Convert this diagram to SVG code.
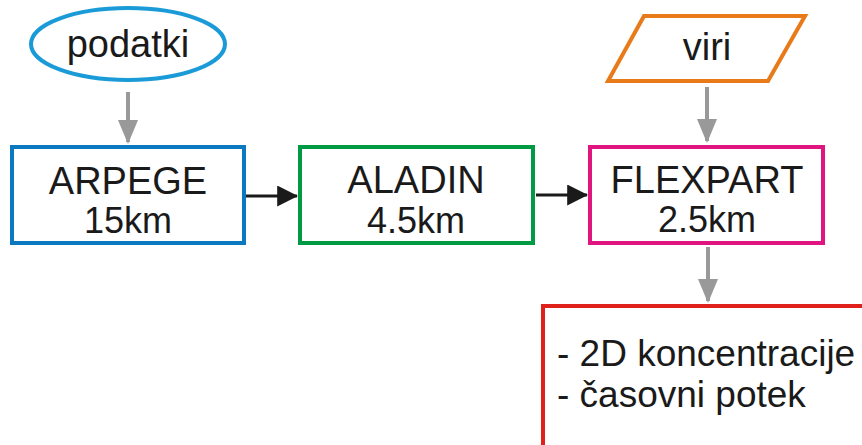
<svg xmlns="http://www.w3.org/2000/svg" width="862" height="445" viewBox="0 0 862 445">
<defs>
<marker id="ab" markerWidth="7" markerHeight="7" refX="6.6" refY="3.5" orient="auto" markerUnits="strokeWidth"><path d="M0,0 L7,3.5 L0,7 z" fill="#1a1a1a"/></marker>
<marker id="ag" markerWidth="6" markerHeight="5" refX="5.5" refY="2.5" orient="auto" markerUnits="strokeWidth"><path d="M0,0 L6,2.5 L0,5 z" fill="#999"/></marker>
</defs>
<style>
text{font-family:"Liberation Sans",Arial,sans-serif;fill:#1a1a1a}
.t1{font-size:38px;text-anchor:middle}
.t2{font-size:36px;text-anchor:middle}
.t3{font-size:37px}
.box{fill:#fff;stroke-width:4}
.bl{stroke:#1a1a1a;stroke-width:3;fill:none;marker-end:url(#ab)}
.gr{stroke:#999;stroke-width:4;fill:none;marker-end:url(#ag)}
</style>
<rect width="862" height="445" fill="#fff"/>
<g id="connectors">
<line class="gr" x1="128" y1="92" x2="128" y2="142"/>
<line class="bl" x1="245" y1="196" x2="297" y2="196"/>
<line class="bl" x1="536" y1="195" x2="587" y2="195"/>
<line class="gr" x1="707" y1="87" x2="707" y2="141"/>
<line class="gr" x1="708" y1="247" x2="708" y2="301"/>
</g>
<g id="podatki">
<ellipse cx="128" cy="44" rx="97" ry="36" fill="#fff" stroke="#1a9ad6" stroke-width="4"/>
<text class="t1" x="128" y="57">podatki</text>
</g>
<g id="arpege">
<rect class="box" x="12" y="147" width="232" height="96" stroke="#0a7ac0"/>
<text class="t1" x="128" y="194">ARPEGE</text>
<text class="t2" x="128" y="233">15km</text>
</g>
<g id="aladin">
<rect class="box" x="300" y="147" width="233" height="96" stroke="#009a44"/>
<text class="t1" x="416" y="193">ALADIN</text>
<text class="t2" x="416" y="233">4.5km</text>
</g>
<g id="viri">
<polygon points="644,16 805,16 768,81 608,81" fill="#fff" stroke="#e87a1a" stroke-width="4" stroke-linejoin="miter"/>
<text class="t1" x="707" y="60">viri</text>
</g>
<g id="flexpart">
<rect class="box" x="590" y="147" width="233" height="96" stroke="#e0157f"/>
<text class="t1" x="707" y="193">FLEXPART</text>
<text class="t2" x="707" y="232">2.5km</text>
</g>
<g id="output">
<rect class="box" x="543" y="306" width="340" height="160" stroke="#e0201a"/>
<text class="t3" x="557" y="366">- 2D koncentracije</text>
<text class="t3" x="557" y="407">- časovni potek</text>
</g>
</svg>
